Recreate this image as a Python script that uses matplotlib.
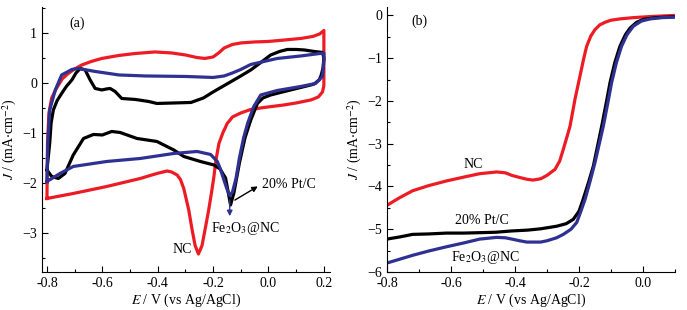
import matplotlib
matplotlib.use("Agg")
import matplotlib.pyplot as plt
from matplotlib.ticker import MultipleLocator

# ---- panel (a): CV curves, E (V) / J (mA cm-2) ----
a_nc_x = [-0.80, -0.798, -0.793, -0.783, -0.765, -0.745, -0.723, -0.70, -0.674, -0.64, -0.602, -0.54,
          -0.48, -0.41, -0.35, -0.30, -0.26, -0.23, -0.20, -0.18, -0.16, -0.13, -0.10, -0.05, 0.0, 0.06,
          0.117, 0.16, 0.185, 0.20, 0.20, 0.20, 0.195, 0.18, 0.153, 0.10, 0.056, -0.016, -0.064, -0.10,
          -0.13, -0.149, -0.165, -0.179, -0.19, -0.197, -0.206, -0.216, -0.228, -0.24, -0.253, -0.265,
          -0.277, -0.288, -0.298, -0.306, -0.318, -0.33, -0.35, -0.366, -0.403, -0.463, -0.584, -0.705, -0.80]
a_nc_y = [-2.31, -1.2, -0.6, -0.3, -0.1, 0.08, 0.19, 0.28, 0.36, 0.43, 0.49, 0.55,
          0.59, 0.62, 0.60, 0.56, 0.51, 0.49, 0.52, 0.60, 0.70, 0.77, 0.80, 0.82, 0.83, 0.86,
          0.89, 0.93, 0.98, 1.05, 0.5, -0.05, -0.18, -0.28, -0.34, -0.40, -0.44, -0.49, -0.53, -0.60,
          -0.68, -0.81, -1.0, -1.21, -1.55, -1.87, -2.2, -2.54, -2.9, -3.25, -3.42, -3.25,
          -2.9, -2.54, -2.3, -2.11, -1.93, -1.84, -1.78, -1.76, -1.81, -1.91, -2.07, -2.21, -2.31]

a_pt_x = [-0.80, -0.79, -0.785, -0.777, -0.763, -0.747, -0.73, -0.71, -0.695, -0.68, -0.662, -0.644,
          -0.626, -0.602, -0.585, -0.572, -0.554, -0.53, -0.481, -0.433, -0.403, -0.34, -0.28, -0.235,
          -0.20, -0.15, -0.10, -0.064, -0.03, 0.008, 0.04, 0.068, 0.10, 0.129, 0.165, 0.195, 0.20, 0.197,
          0.19, 0.183, 0.165, 0.153, 0.08, 0.008, -0.02, -0.04, -0.064, -0.085, -0.105, -0.125, -0.137,
          -0.145, -0.155, -0.175, -0.197, -0.246, -0.306, -0.342, -0.403, -0.475, -0.536, -0.566, -0.60,
          -0.632, -0.668, -0.705, -0.735, -0.759, -0.783, -0.80]
a_pt_y = [-1.74, -1.2, -0.8, -0.54, -0.35, -0.21, -0.07, 0.06, 0.20, 0.29, 0.26, 0.06,
          -0.11, -0.14, -0.12, -0.11, -0.17, -0.31, -0.33, -0.37, -0.41, -0.40, -0.39, -0.30,
          -0.18, -0.02, 0.14, 0.26, 0.40, 0.56, 0.63, 0.67, 0.67, 0.66, 0.63, 0.61, 0.50, 0.30,
          0.15, 0.06, -0.02, -0.04, -0.14, -0.24, -0.30, -0.41, -0.74, -1.1, -1.6, -2.2, -2.44,
          -2.2, -1.9, -1.72, -1.64, -1.57, -1.47, -1.34, -1.17, -1.11, -0.99, -0.97, -1.04,
          -1.03, -1.11, -1.44, -1.81, -1.91, -1.87, -1.74]

a_fe_x = [-0.80, -0.797, -0.793, -0.79, -0.77, -0.747, -0.71, -0.687, -0.626, -0.54, -0.445, -0.30,
          -0.20, -0.16, -0.13, -0.10, -0.064, 0.0, 0.032, 0.117, 0.20, 0.20, 0.197, 0.195, 0.17, 0.117,
          0.032, -0.028, -0.053, -0.075, -0.09, -0.105, -0.117, -0.13, -0.14, -0.15, -0.161, -0.175,
          -0.185, -0.209, -0.258, -0.342, -0.463, -0.584, -0.705, -0.753, -0.80]
a_fe_y = [-1.97, -1.2, -0.8, -0.54, -0.14, 0.16, 0.27, 0.29, 0.23, 0.16, 0.14, 0.13,
          0.11, 0.14, 0.20, 0.27, 0.37, 0.45, 0.49, 0.54, 0.60, 0.46, 0.25, 0.13, -0.01, -0.07,
          -0.15, -0.24, -0.47, -0.8, -1.1, -1.5, -1.9, -2.18, -2.25, -2.12, -1.94, -1.7,
          -1.57, -1.43, -1.37, -1.41, -1.51, -1.57, -1.67, -1.81, -1.97]

# ---- panel (b): LSV curves ----
b_nc_x = [-0.80, -0.76, -0.72, -0.67, -0.614, -0.56, -0.51, -0.457, -0.43, -0.41, -0.385, -0.363,
          -0.344, -0.32, -0.30, -0.275, -0.26, -0.249, -0.238, -0.228, -0.2125, -0.197, -0.185, -0.176,
          -0.163, -0.15, -0.135, -0.119, -0.10, -0.072, -0.03, 0.011, 0.05, 0.095]
b_nc_y = [-4.44, -4.26, -4.10, -3.98, -3.87, -3.78, -3.70, -3.66, -3.68, -3.74, -3.79, -3.83,
          -3.85, -3.82, -3.74, -3.60, -3.40, -3.13, -2.85, -2.59, -1.96, -1.42, -1.0, -0.72,
          -0.48, -0.33, -0.22, -0.16, -0.11, -0.08, -0.05, -0.03, -0.015, 0.0]

b_pt_x = [-0.80, -0.76, -0.72, -0.67, -0.614, -0.56, -0.51, -0.46, -0.41, -0.36, -0.32, -0.27,
          -0.24, -0.218, -0.20, -0.187, -0.17, -0.155, -0.129, -0.115, -0.103, -0.088, -0.072, -0.055,
          -0.04, -0.02, 0.001, 0.04, 0.095]
b_pt_y = [-5.23, -5.18, -5.12, -5.11, -5.09, -5.09, -5.08, -5.07, -5.04, -5.02, -4.99, -4.93,
          -4.87, -4.77, -4.58, -4.30, -3.90, -3.52, -2.59, -2.05, -1.57, -1.1, -0.72, -0.45,
          -0.29, -0.16, -0.09, -0.05, -0.03]

b_fe_x = [-0.80, -0.76, -0.72, -0.67, -0.614, -0.56, -0.51, -0.457, -0.43, -0.41, -0.385, -0.363,
          -0.32, -0.30, -0.27, -0.249, -0.225, -0.207, -0.195, -0.181, -0.165, -0.15, -0.124, -0.11,
          -0.098, -0.083, -0.067, -0.05, -0.03, -0.005, 0.022, 0.06, 0.095]
b_fe_y = [-5.79, -5.70, -5.61, -5.51, -5.41, -5.32, -5.23, -5.19, -5.20, -5.23, -5.27, -5.30,
          -5.30, -5.27, -5.20, -5.12, -5.00, -4.84, -4.60, -4.30, -3.87, -3.44, -2.59, -2.05,
          -1.57, -1.1, -0.72, -0.45, -0.25, -0.13, -0.08, -0.05, -0.04]

RED = "#ED1C24"
BLUE = "#2E3192"
BLACK = "#000000"

plt.rcParams["font.family"] = ["Liberation Serif", "DejaVu Serif"]
plt.rcParams["mathtext.fontset"] = "stix"
plt.rcParams["font.size"] = 10

fig = plt.figure(figsize=(6.87, 3.10), dpi=100)
ax1 = fig.add_axes([0.0611, 0.1226, 0.4192, 0.855])
ax2 = fig.add_axes([0.5633, 0.1226, 0.4192, 0.855])

lw = 2.3
for ax in (ax1, ax2):
    for s in ("top", "right"):
        ax.spines[s].set_visible(False)
    ax.spines["left"].set_linewidth(0.8)
    ax.spines["bottom"].set_linewidth(0.8)
    ax.tick_params(which="both", direction="in", width=0.8)
    ax.tick_params(which="major", length=4)
    ax.tick_params(which="minor", length=2.5)
    ax.set_xlabel(r"$E$ / V (vs Ag/AgCl)", labelpad=1)
    ax.set_ylabel(r"$J$ / (mA$\cdot$cm$^{-2}$)", labelpad=2)

# (a)
ax1.plot(a_nc_x, a_nc_y, color=RED, lw=lw, solid_joinstyle="round")
ax1.plot(a_pt_x, a_pt_y, color=BLACK, lw=lw, solid_joinstyle="round")
ax1.plot(a_fe_x, a_fe_y, color=BLUE, lw=lw, solid_joinstyle="round")
ax1.set_xlim(-0.818, 0.222)
ax1.set_ylim(-3.78, 1.52)
ax1.xaxis.set_major_locator(MultipleLocator(0.2))
ax1.xaxis.set_minor_locator(MultipleLocator(0.1))
ax1.yaxis.set_major_locator(MultipleLocator(1))
ax1.yaxis.set_minor_locator(MultipleLocator(0.5))
ax1.xaxis.set_major_formatter(matplotlib.ticker.FormatStrFormatter("%.1f"))
ax1.text(-0.69, 1.2, "(a)", ha="center", va="center")
ax1.text(-0.276, -3.34, "NC", ha="right", va="center")
ax1.annotate("", xy=(-0.14, -2.72), xytext=(-0.14, -2.28),
             arrowprops=dict(arrowstyle="-|>", color=BLUE, lw=1.0, mutation_scale=8))
ax1.text(-0.085, -2.92, r"Fe$_2$O$_3$@NC", ha="center", va="center")
ax1.annotate("", xy=(-0.03, -2.04), xytext=(-0.13, -2.37),
             arrowprops=dict(arrowstyle="-|>", color=BLACK, lw=1.0, mutation_scale=8))
ax1.text(-0.022, -2.04, "20% Pt/C", ha="left", va="center")

# (b)
ax2.plot(b_nc_x, b_nc_y, color=RED, lw=lw, solid_joinstyle="round")
ax2.plot(b_pt_x, b_pt_y, color=BLACK, lw=lw, solid_joinstyle="round")
ax2.plot(b_fe_x, b_fe_y, color=BLUE, lw=lw, solid_joinstyle="round")
ax2.set_xlim(-0.8, 0.1)
ax2.set_ylim(-6, 0.2)
ax2.xaxis.set_major_locator(MultipleLocator(0.2))
ax2.xaxis.set_minor_locator(MultipleLocator(0.1))
ax2.yaxis.set_major_locator(MultipleLocator(1))
ax2.yaxis.set_minor_locator(MultipleLocator(0.5))
ax2.xaxis.set_major_formatter(matplotlib.ticker.FormatStrFormatter("%.1f"))
ax2.text(-0.70, -0.14, "(b)", ha="center", va="center")
ax2.text(-0.53, -3.48, "NC", ha="center", va="center")
ax2.text(-0.504, -4.80, "20% Pt/C", ha="center", va="center")
ax2.text(-0.494, -5.66, r"Fe$_2$O$_3$@NC", ha="center", va="center")

fig.savefig("out.png", dpi=100)
